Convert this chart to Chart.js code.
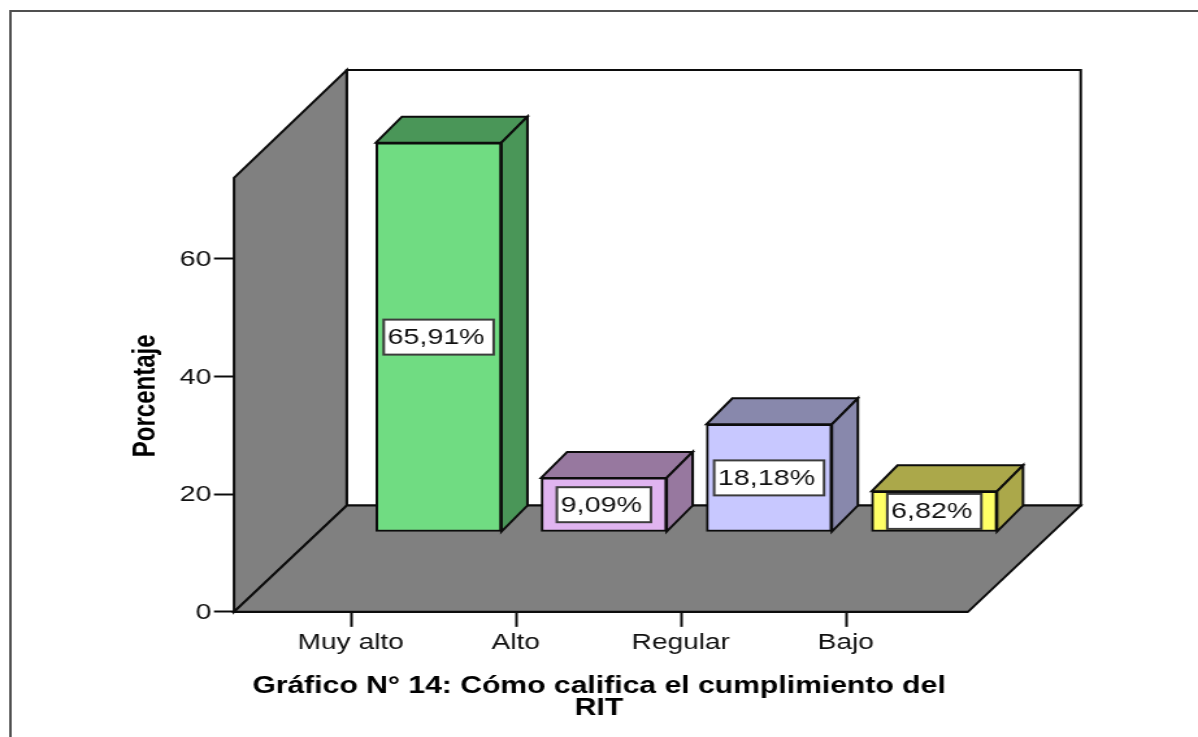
<!DOCTYPE html>
<html><head><meta charset="utf-8">
<style>
html,body{margin:0;padding:0;background:#fff;overflow:hidden}
#wrap{width:1198px;height:737px;overflow:hidden}
canvas{display:block;transform-origin:0 0;transform:scaleX(1.29935);filter:blur(0.45px)}
</style>
<script src="https://cdn.jsdelivr.net/npm/chart.js@4"></script>
</head><body><div id="wrap"><canvas id="c" width="922" height="737"></canvas></div>
<script>
const categories = ["Muy alto","Alto","Regular","Bajo"];
const percentages = [65.91,9.09,18.18,6.82];
const yTicks = [0,20,40,60];
const frontColors = ["#70DC82","#E0B4F0","#C8C8FF","#FFFF66"];
const sideColors = ["#4A9658","#97789F","#8888AC","#ABA84A"];
const chartTitle = ["Gráfico N° 14: Cómo califica el cumplimiento del","RIT"];
const yTitle = "Porcentaje";

const SX = 1198/922;
const FONT = '"Liberation Sans", Arial, sans-serif';
const LINE = "#0c0c0c";
// 3D frame, expressed in axis units
const FLOOR_RISE = 18.07;   // floor depth on the value axis
const WALL_TOP = 73.8;      // height of the side wall at the front
const BAR_LIFT = 13.62;     // bars stand this far up the floor
const Y_MAX = 92.13;
const Y2_MAX = 78.24;
const WALL_DX = 112.7/SX, BAR_DX = 26/SX, BAR_DY = 26;

function poly(ctx,pts,fill,stroke,lw){
  ctx.beginPath();
  pts.forEach((p,i)=> i?ctx.lineTo(p[0],p[1]):ctx.moveTo(p[0],p[1]));
  ctx.closePath();
  if(fill){ctx.fillStyle=fill;ctx.fill();}
  if(stroke){ctx.strokeStyle=stroke;ctx.lineWidth=lw||2;ctx.lineJoin="miter";ctx.stroke();}
}

const frame3d = {
  id:"frame3d",
  beforeDraw(chart){
    const ctx=chart.ctx;
    ctx.save();
    ctx.fillStyle="#fff";ctx.fillRect(0,0,chart.width,chart.height);
    ctx.strokeStyle="#505050";ctx.lineWidth=2;
    ctx.beginPath();ctx.moveTo(8,chart.height);ctx.lineTo(8,11);ctx.lineTo(chart.width,11);ctx.stroke();
    ctx.restore();
  },
  beforeDatasetsDraw(chart){
    const ctx=chart.ctx,{x,y}=chart.scales;
    const l=x.left,r=x.right,y0=y.getPixelForValue(0),yB=y.getPixelForValue(FLOOR_RISE),
          yW=y.getPixelForValue(WALL_TOP),yT=y.top,bl=l+WALL_DX,br=r+WALL_DX;
    ctx.save();
    poly(ctx,[[bl,yT],[br,yT],[br,yB],[bl,yB]],"#fff",LINE);
    poly(ctx,[[l,y0],[l,yW],[bl,yT],[bl,yB]],"#808080",LINE);
    poly(ctx,[[l,y0],[bl,yB],[br,yB],[r,y0]],"#808080",LINE);
    ctx.restore();
  },
  afterDatasetsDraw(chart){
    const ctx=chart.ctx,meta=chart.getDatasetMeta(0);
    ctx.save();
    meta.data.forEach((el,i)=>{
      const {x,y,base,width}=el.getProps(["x","y","base","width"],true);
      const L=x-width/2,R=x+width/2;
      poly(ctx,[[L,y],[L+BAR_DX,y-BAR_DY],[R+BAR_DX,y-BAR_DY],[R,y]],sideColors[i],LINE);
      poly(ctx,[[R,y],[R+BAR_DX,y-BAR_DY],[R+BAR_DX,base-BAR_DY],[R,base]],sideColors[i],LINE);
    });
    ctx.font="22px "+FONT;
    ctx.textBaseline="middle";
    meta.data.forEach((el,i)=>{
      const {x,y,base}=el.getProps(["x","y","base"],true);
      const txt=percentages[i].toFixed(2).replace(".",",")+"%";
      const tw=ctx.measureText(txt).width,w=tw+10,h=35,cy=(y+base)/2;
      ctx.fillStyle="#fff";ctx.fillRect(x-w/2,cy-h/2,w,h);
      ctx.strokeStyle="#3c3c3c";ctx.lineWidth=2;ctx.strokeRect(x-w/2,cy-h/2,w,h);
      ctx.textAlign="left";
      ctx.fillStyle="#111";ctx.fillText(txt,x-w/2+3,cy+1);
    });
    ctx.restore();
  },
  afterDraw(chart){
    const ctx=chart.ctx,{y}=chart.scales;
    ctx.save();
    ctx.translate(146/SX,y.getPixelForValue(WALL_TOP/2)+1);
    ctx.rotate(-Math.PI/2);
    ctx.font="bold 24px "+FONT;ctx.fillStyle="#000";
    ctx.textAlign="center";ctx.textBaseline="middle";
    ctx.fillText(yTitle,0,0);
    ctx.restore();
  }
};

new Chart(document.getElementById("c"),{
  type:"bar",
  data:{
    labels:categories,
    datasets:[{
      data:percentages.map((v,i)=>({x:i,y:v})),
      xAxisID:"x2",yAxisID:"y2",
      backgroundColor:frontColors,
      borderColor:LINE,borderWidth:2,borderSkipped:false,
      barThickness:125.5/SX,
      clip:false
    }]
  },
  plugins:[frame3d],
  options:{
    responsive:false,animation:false,devicePixelRatio:1,
    layout:{padding:{top:70,bottom:18}},
    plugins:{
      legend:{display:false},tooltip:{enabled:false},
      title:{display:true,position:"bottom",text:chartTitle,color:"#000",
             font:{family:FONT,size:23.2,weight:"bold",lineHeight:0.93},padding:0}
    },
    scales:{
      x:{type:"linear",position:"bottom",min:-0.715,max:3.733,offset:false,z:1,
         afterBuildTicks(s){s.ticks=categories.map((_,i)=>({value:i}));},
         afterFit(s){s.height=64;},
         grid:{offset:false,drawOnChartArea:false,drawTicks:true,tickLength:15,tickColor:LINE,tickWidth:2},
         border:{display:true,color:LINE,width:2},
         ticks:{autoSkip:false,maxRotation:0,padding:3,labelOffset:-1,color:"#111",font:{family:FONT,size:21.6},
                callback:v=>categories[v]}},
      x2:{type:"linear",display:false,min:-1.239,max:3.204,offset:false,grid:{offset:false}},
      y:{type:"linear",position:"left",min:0,max:Y_MAX,
         afterBuildTicks(s){s.ticks=yTicks.map(v=>({value:v}));},
         afterFit(s){s.width=234/SX;},
         grid:{drawOnChartArea:false,tickLength:20/SX,tickColor:LINE,tickWidth:2},
         border:{display:false},
         ticks:{padding:2,labelOffset:1,color:"#111",font:{family:FONT,size:22}}},
      y2:{type:"linear",position:"right",min:-BAR_LIFT,max:Y2_MAX,
         afterFit(s){s.width=230/SX;},
         grid:{display:false},border:{display:false},ticks:{display:false}}
    }
  }
});
</script></body></html>
